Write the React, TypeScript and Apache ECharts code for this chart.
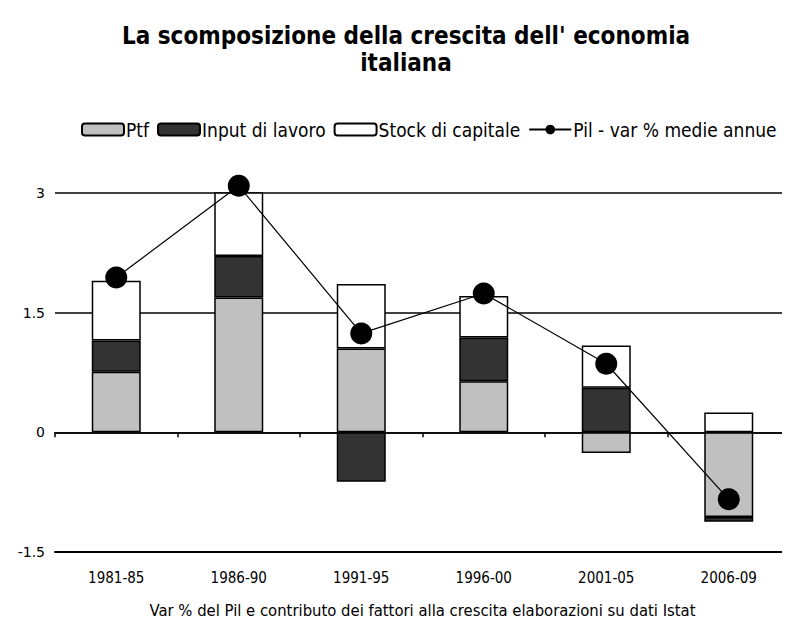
import React, { useEffect, useRef } from "react";
import * as echarts from "echarts";

const categories = ["1981-85", "1986-90", "1991-95", "1996-00", "2001-05", "2006-09"];
const ptf = [0.76, 1.69, 1.05, 0.64, -0.26, -1.06];
const inputLavoro = [0.39, 0.52, -0.62, 0.55, 0.56, -0.06];
const stockCapitale = [0.75, 0.8, 0.81, 0.52, 0.53, 0.25];
const pil = [1.94, 3.09, 1.24, 1.74, 0.86, -0.84];
const yTicks = { min: -1.5, max: 3, interval: 1.5 };

const NARROW = '"Liberation Sans Narrow", "DejaVu Sans Condensed", sans-serif';

export default function App() {
  const ref = useRef<HTMLDivElement>(null);
  useEffect(() => {
    if (!ref.current) return;
    const chart = echarts.init(ref.current, undefined, { renderer: "svg" });
    const barStyle = (color: string) => ({
      color,
      borderColor: "#000",
      borderWidth: 1.5,
    });
    chart.setOption({
      animation: false,
      backgroundColor: "#fff",
      title: {
        text: "La scomposizione della crescita dell' economia\nitaliana",
        left: 401,
        textAlign: "center",
        top: 17,
        textStyle: {
          fontFamily: NARROW,
          fontSize: 24,
          fontWeight: "bold",
          color: "#000",
          lineHeight: 27,
        },
      },
      legend: {
        top: 115,
        left: 76,
        itemWidth: 42,
        itemHeight: 12,
        itemGap: 8,
        textStyle: { fontFamily: NARROW, fontSize: 19, color: "#000", padding: [0, 0, 0, -3] },
        data: [
          { name: "Ptf" },
          { name: "Input di lavoro" },
          { name: "Stock di capitale" },
          { name: "Pil - var % medie annue" },
        ],
      },
      grid: { left: 55, right: -2, top: 193, bottom: 72, containLabel: false },
      xAxis: [
        {
          type: "category",
          data: categories,
          axisLine: { onZero: true, lineStyle: { color: "#000", width: 1.5 } },
          axisTick: { show: true, length: 5, lineStyle: { color: "#000", width: 1.5 } },
          axisLabel: { show: false },
        },
        {
          type: "category",
          data: categories,
          position: "bottom",
          axisLine: { onZero: false, lineStyle: { color: "#000", width: 2 } },
          axisTick: { show: false },
          axisLabel: {
            show: true,
            margin: 18,
            fontFamily: NARROW,
            fontSize: 15,
            color: "#000",
          },
          name: "Var % del Pil e contributo dei fattori alla crescita elaborazioni su dati Istat",
          nameLocation: "middle",
          nameGap: 50,
          nameTextStyle: { fontFamily: NARROW, fontSize: 16.5, color: "#000" },
        },
      ],
      yAxis: {
        type: "value",
        min: yTicks.min,
        max: yTicks.max,
        interval: yTicks.interval,
        axisLine: { show: false },
        axisTick: { show: false },
        axisLabel: {
          margin: 10,
          fontFamily: "DejaVu Sans, sans-serif",
          fontSize: 14,
          color: "#000",
        },
        splitLine: { show: true, lineStyle: { color: "#000", width: 1.5 } },
      },
      series: [
        {
          name: "Ptf",
          type: "bar",
          stack: "tot",
          data: ptf,
          barWidth: 49,
          itemStyle: barStyle("#c0c0c0"),
        },
        {
          name: "Input di lavoro",
          type: "bar",
          stack: "tot",
          data: inputLavoro,
          barWidth: 49,
          itemStyle: barStyle("#333333"),
        },
        {
          name: "Stock di capitale",
          type: "bar",
          stack: "tot",
          data: stockCapitale,
          barWidth: 49,
          itemStyle: barStyle("#ffffff"),
        },
        {
          name: "Pil - var % medie annue",
          type: "line",
          data: pil,
          symbol: "circle",
          symbolSize: 22,
          z: 5,
          clip: false,
          lineStyle: { color: "#000", width: 1.2 },
          itemStyle: { color: "#000" },
        },
      ],
    });
    return () => chart.dispose();
  }, []);
  return <div ref={ref} style={{ width: 790, height: 624, marginLeft: -8, marginTop: -8 }} />;
}
